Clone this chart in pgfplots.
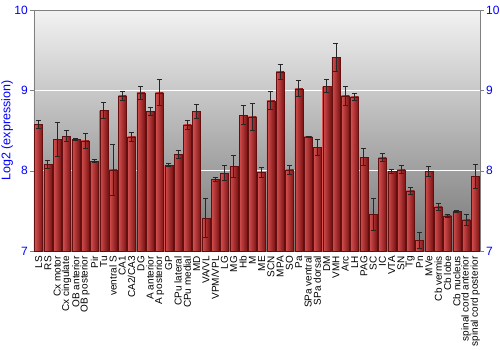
\documentclass[border=0pt]{standalone}
\usepackage{pgfplots}
\usepackage{pgfplotstable}
\pgfplotsset{compat=1.18}
\usepackage{fontspec}
\setmainfont{Liberation Sans}
\definecolor{barL}{RGB}{212,80,80}
\definecolor{barR}{RGB}{125,20,20}
\definecolor{barD}{RGB}{100,15,15}
\definecolor{lblue}{RGB}{0,0,255}

\pgfplotstableread{
x y e
0 8.58 0.05
1 8.08 0.05
2 8.39 0.21
3 8.43 0.07
4 8.39 0.01
5 8.37 0.09
6 8.12 0.02
7 8.75 0.10
8 8.01 0.32
9 8.93 0.05
10 8.42 0.06
11 8.97 0.08
12 8.74 0.05
13 8.97 0.16
14 8.07 0.02
15 8.20 0.05
16 8.57 0.06
17 8.74 0.09
18 7.41 0.24
19 7.89 0.02
20 7.97 0.09
21 8.05 0.14
22 8.69 0.12
23 8.67 0.17
24 7.98 0.06
25 8.87 0.11
26 9.23 0.09
27 8.01 0.06
28 9.02 0.10
29 8.42 0.01
30 8.29 0.10
31 9.05 0.08
32 9.41 0.17
33 8.93 0.12
34 8.92 0.04
35 8.17 0.11
36 7.46 0.20
37 8.16 0.05
38 7.99 0.02
39 8.01 0.05
40 7.75 0.04
41 7.13 0.10
42 7.99 0.06
43 7.55 0.04
44 7.44 0.02
45 7.49 0.01
46 7.39 0.07
47 7.93 0.15
}\data

\begin{document}
\begin{tikzpicture}
\begin{axis}[
  scale only axis, width=446pt, height=241pt,
  xmin=-0.5, xmax=47.5, ymin=7, ymax=10,
  xtick={0,...,47},
  xticklabels={LS,RS,Cx motor,Cx cingulate,OB anterior,OB posterior,Pir,Tu,ventral S,CA1,CA2/CA3,DG,A anterior,A posterior,GP,CPu lateral,CPu medial,MD,VA/VL,VPM/VPL,LG,MG,Hb,M,ME,SCN,MPA,SO,Pa,SPa ventral,SPa dorsal,DM,VMH,Arc,LH,PAG,SC,IC,VTA,SN,Tg,Pn,MVe,Cb vermis,Cb lobe,Cb nucleus,spinal cord anterior,spinal cord posterior},
  x tick label style={rotate=90, anchor=east, font=\fontsize{10}{10}\selectfont, inner sep=1pt, text=black},
  major x tick style={draw=none},
  ytick={7,8,9,10},
  ytick pos=left,
  tick align=outside,
  major tick length=4pt,
  y tick style={gray},
  axis line style={gray},
  ymajorgrids, grid style={white, line width=1pt},
  /pgf/number format/assume math mode=true,
  yticklabel style={text=lblue, font=\fontsize{12}{12}\selectfont, inner sep=2pt},
  ylabel={Log2 (expression)},
  ylabel shift=-4pt,
  ylabel style={text=lblue, font=\fontsize{12.5}{12.5}\selectfont},
  axis background/.style={top color=black!5, bottom color=black!54},
]
\coordinate (sw) at (rel axis cs:0,0);
\pgfplotsinvokeforeach{0,...,47}{
\addplot[ybar, bar shift=0pt, bar width=8pt, draw=barD, line width=0.3pt, left color=barL, right color=barR,
  x filter/.expression={abs(x-#1)<0.3 ? x : nan},
  error bars/.cd, y dir=both, y explicit,
  error bar style={black!85, line width=0.9pt},
  error mark options={rotate=90, mark size=2.5pt, black!85, line width=0.9pt}]
  table[x=x, y=y, y error=e]{\data};
}
\end{axis}
\begin{axis}[
  scale only axis, width=446pt, height=241pt,
  xmin=-0.5, xmax=47.5, ymin=7, ymax=10,
  axis y line*=right, axis x line=none,
  ytick={7,8,9,10},
  tick align=outside,
  major tick length=4pt,
  y tick style={gray},
  axis line style={gray},
  /pgf/number format/assume math mode=true,
  yticklabel style={text=lblue, font=\fontsize{12}{12}\selectfont, inner sep=2pt},
]
\end{axis}
\pgfresetboundingbox
\path[use as bounding box] (sw) ++(-34pt,-99pt) rectangle ++(500pt,350pt);
\end{tikzpicture}
\end{document}
